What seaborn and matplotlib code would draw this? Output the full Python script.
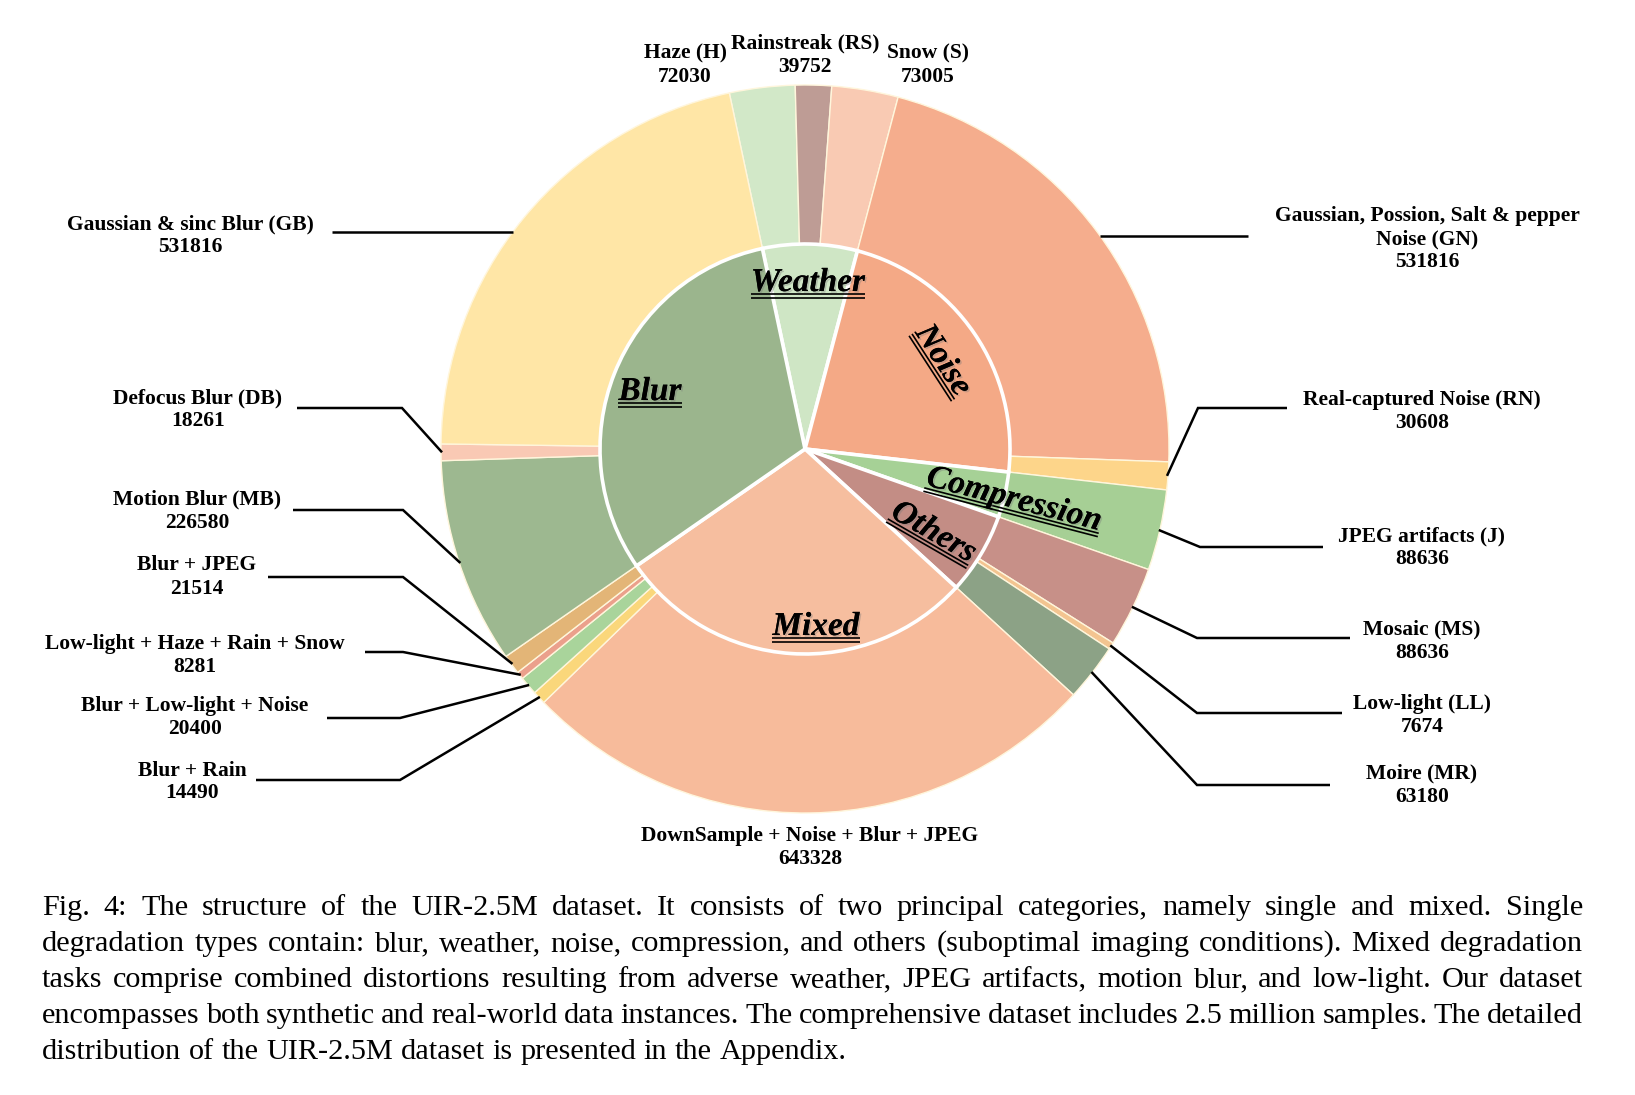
import matplotlib
matplotlib.use("Agg")
import numpy as np
import pandas as pd
import matplotlib.pyplot as plt
import seaborn as sns
from matplotlib import patheffects

sns.set_style("white")
plt.rcParams['font.family'] = ['Liberation Serif', 'DejaVu Serif']

# data (outer ring, clockwise from the top)
outer_names = ["Haze (H)", "Rainstreak (RS)", "Snow (S)",
               "Gaussian, Possion, Salt & pepper\nNoise (GN)", "Real-captured Noise (RN)",
               "JPEG artifacts (J)",
               "Mosaic (MS)", "Low-light (LL)", "Moire (MR)",
               "DownSample + Noise + Blur + JPEG", "Blur + Rain", "Blur + Low-light + Noise",
               "Low-light + Haze + Rain + Snow", "Blur + JPEG",
               "Motion Blur (MB)", "Defocus Blur (DB)", "Gaussian & sinc Blur (GB)"]
outer_values = [72030, 39752, 73005,
                531816, 30608,
                88636,
                88636, 7674, 63180,
                643328, 14490, 20400, 8281, 21514,
                226580, 18261, 531816]
outer_group = ["Weather"] * 3 + ["Noise"] * 2 + ["Compression"] + ["Others"] * 3 + ["Mixed"] * 5 + ["Blur"] * 3
outer_colors = ["#D2E8C8", "#BE9C95", "#F9CAB3",
                "#F5AD8D", "#FDD58A",
                "#A6CF95",
                "#C79088", "#F3C490", "#8CA286",
                "#F7BB9B", "#FAD77B", "#A9D49B", "#EBA08C", "#E3B577",
                "#9DB890", "#F9C9B4", "#FFE6A6"]

inner_colors = {"Weather": "#CFE6C5", "Noise": "#F4A986", "Compression": "#A6D196",
                "Others": "#C38D85", "Mixed": "#F6BE9F", "Blur": "#9BB58D"}

df = pd.DataFrame({"name": outer_names, "value": outer_values, "group": outer_group})
inner = df.groupby("group", sort=False)["value"].sum()

W, H = 1635, 1095
CX, CY = 805, 449          # pie centre (image pixels, y down)
R, R_IN = 364, 205
START = -12                 # degrees clockwise from the top where the first wedge starts

fig = plt.figure(figsize=(W / 100, H / 100), dpi=100)
ax = fig.add_axes([0, 0, 1, 1])

ax.pie(df["value"], radius=R, center=(CX, H - CY), startangle=90 - START, counterclock=False,
       colors=outer_colors, wedgeprops=dict(width=R - R_IN, edgecolor="#FFF6DC", linewidth=1))
ax.pie(inner.values, radius=R_IN, center=(CX, H - CY), startangle=90 - START, counterclock=False,
       colors=[inner_colors[g] for g in inner.index],
       wedgeprops=dict(edgecolor="white", linewidth=2.6))
ax.set_xlim(0, W)
ax.set_ylim(0, H)
ax.axis("off")

renderer = fig.canvas.get_renderer()

# mid angle of each outer wedge (clockwise from top)
cum = np.cumsum(df["value"].values)
total = cum[-1]
mid_angle = START + 360 * (cum - df["value"].values / 2) / total


def circle_point(theta, r=R - 1):
    t = np.radians(theta)
    return CX + r * np.sin(t), CY - r * np.cos(t)


# outer labels: centre of text block (image px)
label_pos = {
    "Haze (H)": (685, 63), "Rainstreak (RS)": (805, 53), "Snow (S)": (928, 63),
    "Gaussian & sinc Blur (GB)": (190, 234), "Defocus Blur (DB)": (198, 408),
    "Motion Blur (MB)": (197, 509), "Blur + JPEG": (197, 575),
    "Low-light + Haze + Rain + Snow": (195, 653), "Blur + Low-light + Noise": (195, 716),
    "Blur + Rain": (192, 780), "DownSample + Noise + Blur + JPEG": (810, 846),
    "Gaussian, Possion, Salt & pepper\nNoise (GN)": (1427, 237),
    "Real-captured Noise (RN)": (1422, 410), "JPEG artifacts (J)": (1422, 546),
    "Mosaic (MS)": (1422, 639), "Low-light (LL)": (1422, 713), "Moire (MR)": (1422, 783),
}

# leader lines: (text-side x, elbow x or None for horizontal, elbow y)
leaders = {
    "Gaussian & sinc Blur (GB)": (332, None, 232),
    "Defocus Blur (DB)": (297, 402, 408),
    "Motion Blur (MB)": (293, 403, 510),
    "Blur + JPEG": (268, 403, 577),
    "Low-light + Haze + Rain + Snow": (365, 403, 652),
    "Blur + Low-light + Noise": (327, 400, 718),
    "Blur + Rain": (256, 400, 780),
    "Gaussian, Possion, Salt & pepper\nNoise (GN)": (1248, None, 236),
    "Real-captured Noise (RN)": (1287, 1198, 408),
    "JPEG artifacts (J)": (1323, 1200, 547),
    "Mosaic (MS)": (1350, 1197, 638),
    "Low-light (LL)": (1342, 1197, 713),
    "Moire (MR)": (1330, 1197, 785),
}

for i, row in df.iterrows():
    x, yc = label_pos[row["name"]]
    lines = row["name"].split("\n") + [str(row["value"])]
    n = len(lines)
    for k, s in enumerate(lines):
        yb = yc + (k - (n - 1) / 2) * 23 + 7
        ax.text(x, H - yb, s, ha="center", va="baseline", fontsize=15.5, fontweight="bold", color="black")
    if row["name"] in leaders:
        tx, ex, ey = leaders[row["name"]]
        if ex is None:
            side = -1 if tx < CX else 1
            axx = CX + side * np.sqrt(R ** 2 - (ey - CY) ** 2)
            ax.plot([tx, axx], [H - ey, H - ey], color="black", lw=1.8, solid_capstyle="butt")
        else:
            axx, ayy = circle_point(mid_angle[i])
            ax.plot([tx, ex, axx], [H - ey, H - ey, H - ayy], color="black", lw=1.8,
                    solid_capstyle="butt", solid_joinstyle="miter")

# inner labels, bold italic with double underline
inner_labels = [("Weather", 808, 280, 0), ("Blur", 650, 389, 0), ("Noise", 945, 359, -57),
                ("Compression", 1015, 497, -14.6), ("Others", 935, 530, -30), ("Mixed", 816, 624, 0)]
shadow = [patheffects.withSimplePatchShadow(offset=(1.2, -1.2), shadow_rgbFace="#777777", alpha=0.35),
          patheffects.Normal()]
IN_FS = 24
for s, xc, yc, rot in inner_labels:
    t = ax.text(0, 0, s, fontsize=IN_FS, fontweight="bold", fontstyle="italic")
    w = t.get_window_extent(renderer).width
    t.remove()
    th = np.radians(rot)
    u = np.array([np.cos(th), np.sin(th)])
    dn = np.array([np.sin(th), -np.cos(th)])
    base = np.array([xc, H - yc]) + dn * 11
    ax.text(base[0], base[1], s, rotation=rot, rotation_mode="anchor", ha="center", va="baseline",
            fontsize=IN_FS, fontweight="bold", fontstyle="italic", color="black", path_effects=shadow)
    for d in (3.0, 6.5):
        p = base + dn * d
        a = p - u * w / 2
        b = p + u * w / 2
        ax.plot([a[0], b[0]], [a[1], b[1]], color="black", lw=1.2, solid_capstyle="butt")

# caption, justified
caption = [
    "Fig. 4: The structure of the UIR-2.5M dataset. It consists of two principal categories, namely single and mixed. Single",
    "degradation types contain: blur, weather, noise, compression, and others (suboptimal imaging conditions). Mixed degradation",
    "tasks comprise combined distortions resulting from adverse weather, JPEG artifacts, motion blur, and low-light. Our dataset",
    "encompasses both synthetic and real-world data instances. The comprehensive dataset includes 2.5 million samples. The detailed",
    "distribution of the UIR-2.5M dataset is presented in the Appendix.",
]
cap_left, cap_right = 42, 1583
cap_fs = 21.8
space_w = None
for j, line in enumerate(caption):
    yb = 915 + j * 36
    words = line.split()
    widths = []
    for wd in words:
        t = ax.text(0, 0, wd, fontsize=cap_fs)
        widths.append(t.get_window_extent(renderer).width)
        t.remove()
    if space_w is None:
        t = ax.text(0, 0, "a a", fontsize=cap_fs)
        t2 = ax.text(0, 0, "aa", fontsize=cap_fs)
        space_w = t.get_window_extent(renderer).width - t2.get_window_extent(renderer).width
        t.remove()
        t2.remove()
    if j < len(caption) - 1:
        gap = (cap_right - cap_left - sum(widths)) / (len(words) - 1)
    else:
        gap = space_w
    x = cap_left
    for wd, wdt in zip(words, widths):
        ax.text(x, H - yb, wd, ha="left", va="baseline", fontsize=cap_fs, color="black")
        x += wdt + gap

fig.savefig("out.png", dpi=100)
